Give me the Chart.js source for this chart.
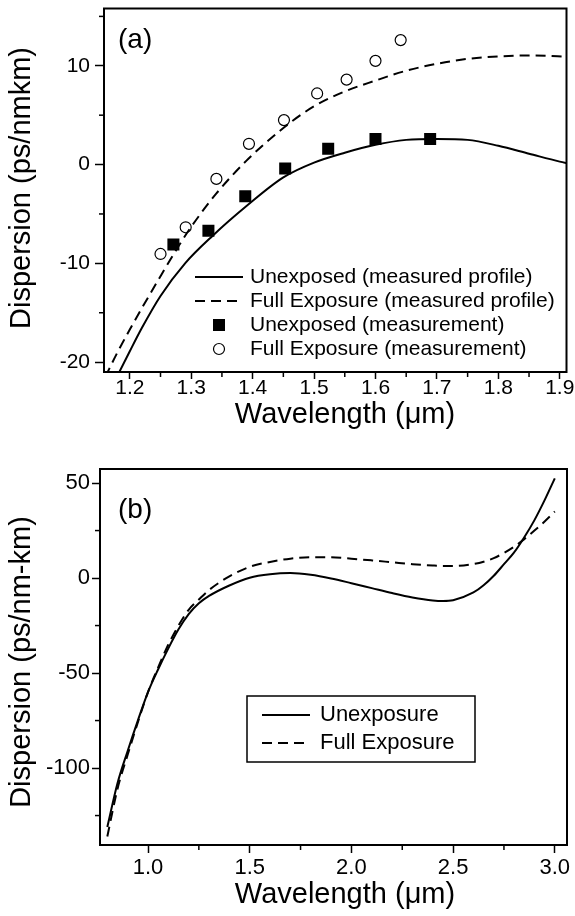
<!DOCTYPE html>
<html>
<head>
<meta charset="utf-8">
<script src="https://cdn.jsdelivr.net/npm/chart.js@4.4.0/dist/chart.umd.min.js"></script>
<style>
  html, body { margin: 0; padding: 0; background: #fff; }
  #wrapA { position: absolute; left: 0; top: 0; width: 575px; height: 450px; }
  #wrapB { position: absolute; left: 0; top: 450px; width: 575px; height: 466px; }
</style>
</head>
<body>
<div id="wrapA"><canvas id="chartA"></canvas></div>
<div id="wrapB"><canvas id="chartB"></canvas></div>
<script>
// ---- panel (a) ----
const wlUnexpA = [1.17, 1.20, 1.22, 1.25, 1.29, 1.335, 1.39, 1.45, 1.50, 1.55, 1.60, 1.65, 1.70, 1.75, 1.80, 1.85, 1.90, 1.915];
const dUnexpA = [-22.6, -18.9, -16.5, -13.3, -10.0, -7.2, -4.2, -1.3, 0.2, 1.2, 2.0, 2.5, 2.6, 2.5, 1.9, 1.1, 0.3, 0.1];
const wlFullA = [1.16, 1.18, 1.20, 1.22, 1.25, 1.28, 1.30, 1.34, 1.39, 1.45, 1.50, 1.55, 1.60, 1.65, 1.70, 1.75, 1.80, 1.86, 1.915];
const dFullA = [-21.5, -19.0, -16.7, -14.5, -11.3, -8.2, -6.3, -3.0, 0.4, 3.7, 5.9, 7.4, 8.5, 9.5, 10.2, 10.7, 10.95, 11.05, 10.9];
const wlUnexpMeas = [1.271, 1.328, 1.388, 1.453, 1.523, 1.600, 1.689];
const dUnexpMeas = [-8.1, -6.7, -3.2, -0.4, 1.6, 2.6, 2.6];
const wlFullMeas = [1.250, 1.291, 1.341, 1.394, 1.451, 1.505, 1.553, 1.600, 1.641];
const dFullMeas = [-9.05, -6.35, -1.45, 2.1, 4.5, 7.2, 8.6, 10.5, 12.6];
const xTicksA = [1.2, 1.3, 1.4, 1.5, 1.6, 1.7, 1.8, 1.9];
const xMinorA = [1.25, 1.35, 1.45, 1.55, 1.65, 1.75, 1.85];
const yTicksA = [-20, -10, 0, 10];
const yMinorA = [-15, -5, 5, 15];

// ---- panel (b) ----
const wlB = [0.8, 0.85, 0.9, 0.95, 1.0, 1.05, 1.1, 1.15, 1.2, 1.25, 1.3, 1.4, 1.5, 1.6, 1.7, 1.8, 1.9, 2.0, 2.1, 2.2, 2.3, 2.4, 2.45, 2.5, 2.6, 2.65, 2.7, 2.75, 2.8, 2.85, 2.9, 2.95, 3.0];
const dUnexpB = [-131, -108, -91, -75, -60, -48, -37, -27, -19, -13.3, -9.4, -3.9, 0.2, 2.0, 2.6, 1.7, -0.2, -2.7, -5.3, -7.9, -10.2, -11.8, -12.1, -11.7, -7.6, -3.8, 1.2, 7.3, 13.5, 21.5, 30.5, 41, 52.5];
const dFullB = [-136, -111, -93, -76, -60, -47, -35, -25, -16.7, -11.3, -6.3, 0.9, 5.9, 8.5, 10.2, 10.95, 10.9, 10.2, 9.3, 8.3, 7.3, 6.6, 6.4, 6.4, 7.4, 8.6, 10.5, 13.2, 16.5, 20.5, 25, 29.8, 35];
const xTicksB = [1.0, 1.5, 2.0, 2.5, 3.0];
const xMinorB = [1.25, 1.75, 2.25, 2.75];
const yTicksB = [-100, -50, 0, 50];
const yMinorB = [-125, -75, -25, 25];

const FONT = "'Liberation Sans', Arial, Helvetica, sans-serif";

const pts = (xs, ys) => xs.map((x, i) => ({x: x, y: ys[i]}));

// frame, minor ticks, axis titles, panel label and legend
const deco = {
  id: 'deco',
  afterDraw(chart, args, o) {
    const ctx = chart.ctx, a = chart.chartArea;
    const xs = chart.scales.x, ys = chart.scales.y;
    ctx.save();
    ctx.strokeStyle = '#000';
    ctx.fillStyle = '#000';
    ctx.lineWidth = 1.5;
    o.minorX.forEach(v => {
      const p = xs.getPixelForValue(v);
      ctx.beginPath(); ctx.moveTo(p, a.bottom); ctx.lineTo(p, a.bottom + o.minorLen); ctx.stroke();
    });
    o.minorY.forEach(v => {
      const p = ys.getPixelForValue(v);
      ctx.beginPath(); ctx.moveTo(a.left, p); ctx.lineTo(a.left - o.minorLen, p); ctx.stroke();
    });
    ctx.lineWidth = 2;
    ctx.strokeRect(a.left, a.top, a.right - a.left, a.bottom - a.top);

    ctx.textBaseline = 'middle';
    ctx.textAlign = 'center';
    ctx.font = o.titleSize + 'px ' + FONT;
    ctx.fillText(o.xTitle, o.xTitlePos[0], o.xTitlePos[1]);
    ctx.save();
    ctx.translate(o.yTitlePos[0], o.yTitlePos[1]);
    ctx.rotate(-Math.PI / 2);
    ctx.fillText(o.yTitle, 0, 0);
    ctx.restore();

    ctx.textAlign = 'left';
    ctx.font = o.panelSize + 'px ' + FONT;
    ctx.fillText(o.panel, o.panelX, o.panelY);

    if (o.box) {
      ctx.lineWidth = 1.5;
      ctx.strokeRect(o.box[0], o.box[1], o.box[2], o.box[3]);
    }
    ctx.font = o.legendSize + 'px ' + FONT;
    chart.data.datasets.forEach((ds, i) => {
      const y = o.rowY[i];
      if (ds.showLine === false) {
        const cx = (o.sampleX[0] + o.sampleX[1]) / 2;
        if (ds.pointStyle === 'rect') {
          ctx.fillRect(cx - 6, y - 6, 12, 12);
        } else {
          ctx.lineWidth = 1.2;
          ctx.beginPath(); ctx.arc(cx, y, 5.5, 0, Math.PI * 2); ctx.stroke();
        }
      } else {
        ctx.lineWidth = ds.borderWidth;
        ctx.setLineDash(ds.borderDash || []);
        ctx.beginPath(); ctx.moveTo(o.sampleX[0], y); ctx.lineTo(o.sampleX[1], y); ctx.stroke();
        ctx.setLineDash([]);
      }
      ctx.fillText(ds.label, o.textX, y);
    });
    ctx.restore();
  }
};

function fixTicks(values) {
  return scale => { scale.ticks = values.map(v => ({value: v})); };
}

function lineSet(label, data, dash) {
  return {label: label, data: data, borderColor: '#000', borderWidth: 2, borderDash: dash,
    pointRadius: 0, cubicInterpolationMode: 'monotone', fill: false};
}

function axes(c) {
  return {
    x: {
      type: 'linear', min: c.xMin, max: c.xMax,
      afterBuildTicks: fixTicks(c.xTicks),
      afterFit: s => { s.height = c.xHeight; s.paddingLeft = 0; s.paddingRight = 0; },
      grid: {drawOnChartArea: false, drawTicks: true, tickLength: c.xTickLen, tickColor: '#000', tickWidth: 1.5},
      border: {display: false},
      ticks: {color: '#000', padding: c.xTickPad, maxRotation: 0, autoSkip: false,
        font: {family: FONT, size: c.tickSize, lineHeight: 1}, callback: v => v.toFixed(1)}
    },
    y: {
      type: 'linear', min: c.yMin, max: c.yMax,
      afterBuildTicks: fixTicks(c.yTicks),
      afterFit: s => { s.width = c.yWidth; s.paddingTop = 0; s.paddingBottom = 0; },
      grid: {drawOnChartArea: false, drawTicks: true, tickLength: c.yTickLen, tickColor: '#000', tickWidth: 1.5},
      border: {display: false},
      ticks: {color: '#000', padding: c.yTickPad, autoSkip: false,
        font: {family: FONT, size: c.tickSize}, callback: v => String(v)}
    }
  };
}

new Chart(document.getElementById('chartA'), {
  type: 'line',
  data: {
    datasets: [
      lineSet('Unexposed (measured profile)', pts(wlUnexpA, dUnexpA), []),
      lineSet('Full Exposure (measured profile)', pts(wlFullA, dFullA), [10, 6]),
      {label: 'Unexposed (measurement)', data: pts(wlUnexpMeas, dUnexpMeas), showLine: false,
        pointStyle: 'rect', pointRadius: 8.5, backgroundColor: '#000', borderColor: '#000', borderWidth: 0},
      {label: 'Full Exposure (measurement)', data: pts(wlFullMeas, dFullMeas), showLine: false,
        pointStyle: 'circle', pointRadius: 5.5, backgroundColor: '#fff', borderColor: '#000', borderWidth: 1.2}
    ]
  },
  options: {
    responsive: true, maintainAspectRatio: false, animation: false, events: [],
    layout: {padding: {left: 0, right: 6, top: 6, bottom: 18}},
    scales: axes({xMin: 1.158, xMax: 1.911, yMin: -21.0, yMax: 15.8, xTicks: xTicksA, yTicks: yTicksA,
      xHeight: 60, yWidth: 104, xTickLen: 7, yTickLen: 9, xTickPad: -1, yTickPad: 5, tickSize: 21}),
    plugins: {
      legend: {display: false}, tooltip: {enabled: false},
      deco: {minorX: xMinorA, minorY: yMinorA, minorLen: 5, panel: '(a)', panelX: 118, panelY: 40, panelSize: 28,
        titleSize: 29, xTitle: 'Wavelength (\u03bcm)', xTitlePos: [345, 415],
        yTitle: 'Dispersion (ps/nmkm)', yTitlePos: [22, 188],
        legendSize: 21, rowY: [277, 301, 325, 349], sampleX: [195, 243], textX: 250, box: null}
    }
  },
  plugins: [deco]
});

new Chart(document.getElementById('chartB'), {
  type: 'line',
  data: {
    datasets: [
      lineSet('Unexposure', pts(wlB, dUnexpB), []),
      lineSet('Full Exposure', pts(wlB, dFullB), [10, 6])
    ]
  },
  options: {
    responsive: true, maintainAspectRatio: false, animation: false, events: [],
    layout: {padding: {left: 0, right: 8, top: 19, bottom: 4}},
    scales: axes({xMin: 0.764, xMax: 3.06, yMin: -140.5, yMax: 57.4, xTicks: xTicksB, yTicks: yTicksB,
      xHeight: 67, yWidth: 100, xTickLen: 8, yTickLen: 8, xTickPad: 4, yTickPad: 2, tickSize: 22}),
    plugins: {
      legend: {display: false}, tooltip: {enabled: false},
      deco: {minorX: xMinorB, minorY: yMinorB, minorLen: 5, panel: '(b)', panelX: 118, panelY: 60, panelSize: 28,
        titleSize: 29, xTitle: 'Wavelength (\u03bcm)', xTitlePos: [345, 445],
        yTitle: 'Dispersion (ps/nm-km)', yTitlePos: [22, 212],
        legendSize: 22, rowY: [265, 293], sampleX: [262, 310], textX: 320, box: [247, 246, 228, 66]}
    }
  },
  plugins: [deco]
});
</script>
</body>
</html>
